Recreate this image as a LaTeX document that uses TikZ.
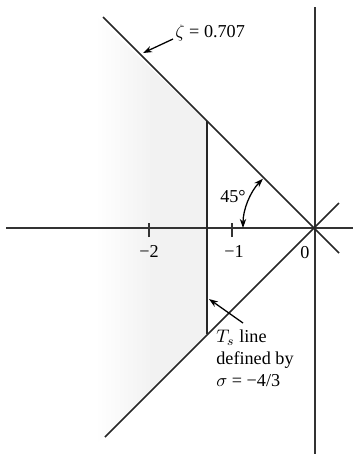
\documentclass[tikz,border=0pt]{standalone}
\usepackage{fontspec}
\setmainfont{Liberation Serif}
\usetikzlibrary{arrows.meta}
\begin{document}
\begin{tikzpicture}[x=0.55pt,y=-0.55pt,
  line/.style={line width=0.9pt,black!85},
  axis/.style={line width=0.7pt,black!80},
  lbl/.style={font=\fontsize{10}{12}\selectfont,inner sep=0pt},
  pointer/.style={line width=0.7pt,-{Stealth[length=5pt,width=3.5pt]}}]
\useasboundingbox (0,0) rectangle (353,454);
% shading
\shade[left color=white,right color=black!5,middle color=black!5,shading angle=90]
  (95,15) -- (207,122) -- (207,333) -- (95,445) -- cycle;
% coordinates
\coordinate (O) at (314,228);
\coordinate (UL) at (103,17);
\coordinate (UR) at (339,253);
\coordinate (LL) at (105,437);
\coordinate (LR) at (339,203);
\coordinate (TsT) at (207,121);
\coordinate (TsB) at (207,334);
\coordinate (XL) at (6,228);
\coordinate (XR) at (353,228);
\coordinate (YT) at (315,7);
\coordinate (YB) at (315,454);
% axes
\draw[axis] (XL) -- (XR);
\draw[axis] (YT) -- (YB);
% ticks
\coordinate (t2) at (149,228);
\coordinate (t1) at (232,228);
\draw[axis] ([yshift=-5pt]t2) -- ([yshift=3pt]t2);
\draw[axis] ([yshift=-5pt]t1) -- ([yshift=3pt]t1);
\node[lbl] (l2) at (149,251) {−2};
\node[lbl] (l1) at (234,251) {−1};
\node[lbl] (l0) at (305,253) {0};
% zeta lines
\draw[line] (UL) -- (UR);
\draw[line] (LL) -- (LR);
% Ts line
\draw[line] (TsT) -- (TsB);
% angle arc
\draw[line width=0.7pt,{Stealth[length=5pt,width=3.5pt]}-{Stealth[length=5pt,width=3.5pt]}]
  ([shift={(180:71)}]O) arc[start angle=180,end angle=224,radius=71];
\node[lbl] (a45) at (233,197) {45°};
% zeta label
\node[lbl,anchor=west] (zl) at (175,33) {$\zeta$ = 0.707};
\coordinate (zt) at (143,53);
\draw[pointer] (zl.west) ++(-2,6) -- (zt);
% Ts label
\node[lbl,anchor=north west,align=left] (tsl) at (216,330)
  {$T_s$ line\\defined by\\$\sigma$ = −4/3};
\coordinate (tsa) at (209,299);
\draw[pointer] (243,323) -- (tsa);
\end{tikzpicture}
\end{document}
